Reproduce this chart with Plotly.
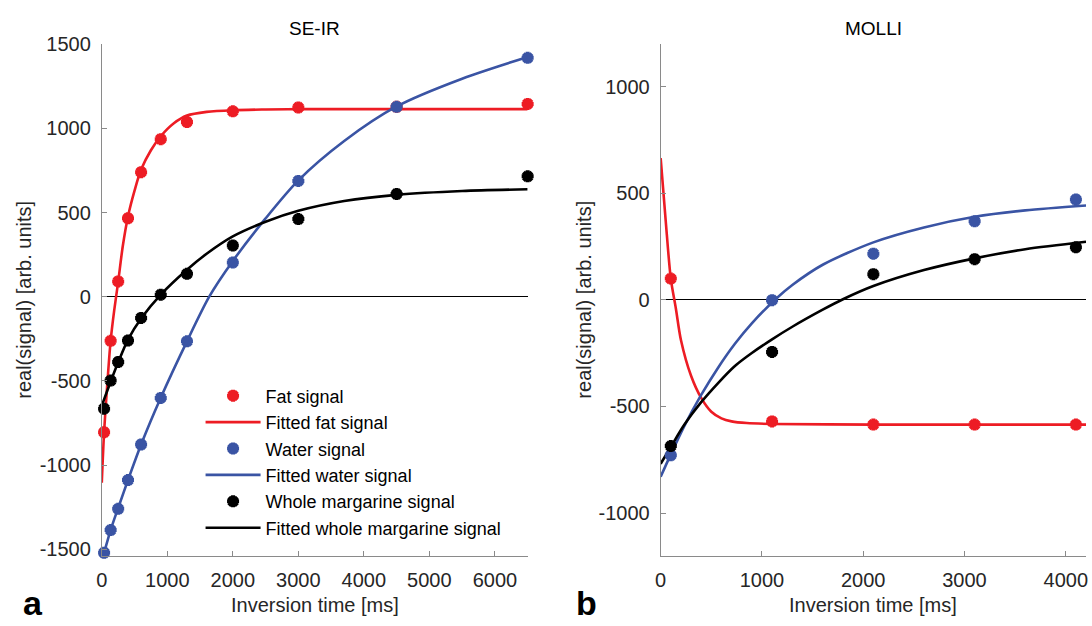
import plotly.graph_objects as go

# ---------------- DATA ----------------
# SE-IR (panel a)
seir_ti = [35, 135, 250, 400, 600, 900, 1300, 2000, 3000, 4500, 6500]
seir_fat = [-805, -262, 91, 466, 740, 936, 1038, 1101, 1124, 1128, 1145]
seir_water = [-1521, -1386, -1260, -1089, -878, -601, -265, 203, 688, 1128, 1419]
seir_whole = [-665, -498, -388, -260, -126, 12, 136, 304, 461, 610, 715]

seir_fit_fat_ti = [0, 35, 80, 135, 190, 250, 320, 400, 500, 600, 750, 900, 1100, 1300, 1600, 2000, 2500, 3000, 4500, 6500]
seir_fit_fat = [-1105, -805, -540, -262, -80, 88, 300, 477, 630, 755, 870, 953, 1030, 1076, 1098, 1108, 1112, 1114, 1114, 1114]
seir_fit_water_ti = [0, 35, 135, 250, 400, 600, 900, 1300, 1640, 2000, 2500, 3000, 3700, 4500, 5500, 6500]
seir_fit_water = [-1570, -1521, -1386, -1255, -1089, -878, -600, -265, 0, 212, 465, 691, 925, 1130, 1295, 1424]
seir_fit_whole_ti = [0, 35, 135, 250, 400, 600, 900, 1300, 1600, 2000, 2500, 3000, 3700, 4500, 5500, 6500]
seir_fit_whole = [-650, -610, -505, -390, -255, -130, 12, 160, 255, 358, 445, 510, 568, 605, 628, 638]

# MOLLI (panel b)
molli_ti = [100, 1100, 2100, 3100, 4100]
molli_fat = [100, -570, -585, -585, -585]
molli_water = [-729, -1, 217, 369, 471]
molli_whole = [-686, -244, 121, 191, 247]

molli_fit_fat_ti = [0, 50, 100, 150, 200, 300, 400, 500, 600, 700, 850, 1100, 2100, 3100, 4200]
molli_fit_fat = [665, 370, 100, -40, -188, -356, -460, -525, -556, -570, -578, -582, -585, -585, -585]
molli_fit_water_ti = [0, 100, 233, 400, 567, 733, 900, 1150, 1300, 1600, 2100, 2600, 3100, 3600, 4200]
molli_fit_water = [-830, -725, -592, -446, -318, -206, -110, 10, 70, 165, 270, 340, 390, 420, 443]
molli_fit_whole_ti = [0, 100, 233, 400, 567, 733, 900, 1100, 1300, 1600, 1800, 2100, 2600, 3100, 3600, 4200]
molli_fit_whole = [-769, -690, -586, -480, -390, -310, -249, -185, -126, -46, 3, 65, 140, 195, 238, 273]

# axis ticks
seir_xticks = [0, 1000, 2000, 3000, 4000, 5000, 6000]
seir_yticks = [-1500, -1000, -500, 0, 500, 1000, 1500]
seir_ytick_labels = ["-1500", "-1000", "-500", "0", "500", "1000", "1500"]
molli_xticks = [0, 1000, 2000, 3000, 4000]
molli_yticks = [-1000, -500, 0, 500, 1000]
molli_ytick_labels = ["-1000", "-500", "0", "500", "1000"]

legend_names = ["Fat signal", "Fitted fat signal", "Water signal", "Fitted water signal",
                "Whole margarine signal", "Fitted whole margarine signal"]
panel_titles = ["SE-IR", "MOLLI"]
x_title = "Inversion time [ms]"
y_title = "real(signal) [arb. units]"
panel_letters = ["a", "b"]

# ---------------- STYLE ----------------
RED = "#ED1C24"
BLUE = "#3A54A4"
BLACK = "#000000"
AXIS_GRAY = "#8a8a8a"
TEXT = "#262626"
FONT = "Liberation Sans, Arial, sans-serif"
W, H = 1092, 626

fig = go.Figure()


def pts(x, y, color, name, xa, ya, show):
    fig.add_trace(go.Scatter(
        x=x, y=y, mode="markers", name=name, showlegend=show,
        xaxis=xa, yaxis=ya, cliponaxis=False,
        marker=dict(symbol="asterisk-open", size=10, color=color,
                    line=dict(color=color, width=4)),
    ))


def fit(x, y, color, name, xa, ya, show):
    fig.add_trace(go.Scatter(
        x=x, y=y, mode="lines", name=name, showlegend=show,
        xaxis=xa, yaxis=ya,
        line=dict(color=color, width=2.6, shape="spline", smoothing=0.8),
    ))


pts(seir_ti, seir_fat, RED, legend_names[0], "x", "y", True)
fit(seir_fit_fat_ti, seir_fit_fat, RED, legend_names[1], "x", "y", True)
pts(seir_ti, seir_water, BLUE, legend_names[2], "x", "y", True)
fit(seir_fit_water_ti, seir_fit_water, BLUE, legend_names[3], "x", "y", True)
pts(seir_ti, seir_whole, BLACK, legend_names[4], "x", "y", True)
fit(seir_fit_whole_ti, seir_fit_whole, BLACK, legend_names[5], "x", "y", True)

fit(molli_fit_fat_ti, molli_fit_fat, RED, legend_names[1], "x2", "y2", False)
fit(molli_fit_water_ti, molli_fit_water, BLUE, legend_names[3], "x2", "y2", False)
fit(molli_fit_whole_ti, molli_fit_whole, BLACK, legend_names[5], "x2", "y2", False)
pts(molli_ti, molli_fat, RED, legend_names[0], "x2", "y2", False)
pts(molli_ti, molli_water, BLUE, legend_names[2], "x2", "y2", False)
pts(molli_ti, molli_whole, BLACK, legend_names[4], "x2", "y2", False)

# pixel layout
L1, R1 = 96.5, 525.5
L2, R2 = 659.5, 1088
TOP, BOT = 34, 558
ydom = [(H - BOT) / H, (H - TOP) / H]

axis_common = dict(
    showline=True, linecolor=AXIS_GRAY, linewidth=1,
    ticks="inside", ticklen=5, tickcolor=AXIS_GRAY, tickwidth=1,
    showgrid=False, mirror=False,
    tickfont=dict(family=FONT, size=20, color=TEXT),
)

fig.update_layout(
    width=W, height=H,
    margin=dict(l=0, r=0, t=0, b=0),
    paper_bgcolor="white", plot_bgcolor="white",
    font=dict(family=FONT, color=TEXT),
    xaxis=dict(domain=[L1 / W, R1 / W], range=[0, 6500], tickvals=seir_xticks,
               ticklabelstandoff=6, anchor="y", zeroline=False, **axis_common),
    yaxis=dict(domain=ydom, range=[-1538, 1500], tickvals=seir_yticks, ticktext=seir_ytick_labels,
               ticklabelstandoff=6, anchor="x", zeroline=True, zerolinecolor=BLACK, zerolinewidth=1,
               **axis_common),
    xaxis2=dict(domain=[L2 / W, R2 / W], range=[0, 4200], tickvals=molli_xticks,
                ticklabelstandoff=6, anchor="y2", zeroline=False, **axis_common),
    yaxis2=dict(domain=ydom, range=[-1200, 1200], tickvals=molli_yticks, ticktext=molli_ytick_labels,
                ticklabelstandoff=6, anchor="x2", zeroline=True, zerolinecolor=BLACK, zerolinewidth=1,
                **axis_common),
    legend=dict(
        x=196 / W, y=(H - 375.5) / H, xanchor="left", yanchor="top",
        bgcolor="rgba(0,0,0,0)", borderwidth=0,
        font=dict(family=FONT, size=18, color=BLACK),
        itemwidth=55, tracegroupgap=0,
    ),
    showlegend=True,
)

ann = []
for title, cx in zip(panel_titles, [(L1 + R1) / 2, (L2 + R2) / 2]):
    ann.append(dict(text=title, x=cx / W, y=(H - 18) / H, xref="paper", yref="paper",
                    showarrow=False, xanchor="center", yanchor="middle",
                    font=dict(family=FONT, size=19, color=BLACK)))
    ann.append(dict(text=x_title, x=cx / W, y=(H - 609) / H, xref="paper", yref="paper",
                    showarrow=False, xanchor="center", yanchor="middle",
                    font=dict(family=FONT, size=20, color=TEXT)))
for yx in [18, 582]:
    ann.append(dict(text=y_title, x=yx / W, y=(H - (TOP + BOT) / 2) / H, xref="paper", yref="paper",
                    showarrow=False, xanchor="center", yanchor="middle", textangle=-90,
                    font=dict(family=FONT, size=20, color=TEXT)))
for letter, lx in zip(panel_letters, [27, 585]):
    ann.append(dict(text="<b>%s</b>" % letter, x=lx / W, y=(H - 607) / H, xref="paper", yref="paper",
                    showarrow=False, xanchor="center", yanchor="middle",
                    font=dict(family=FONT, size=34, color=BLACK)))
fig.update_layout(annotations=ann)

fig.write_html("out.html", config={"displayModeBar": False},
               post_script="document.body.style.margin='0';")
